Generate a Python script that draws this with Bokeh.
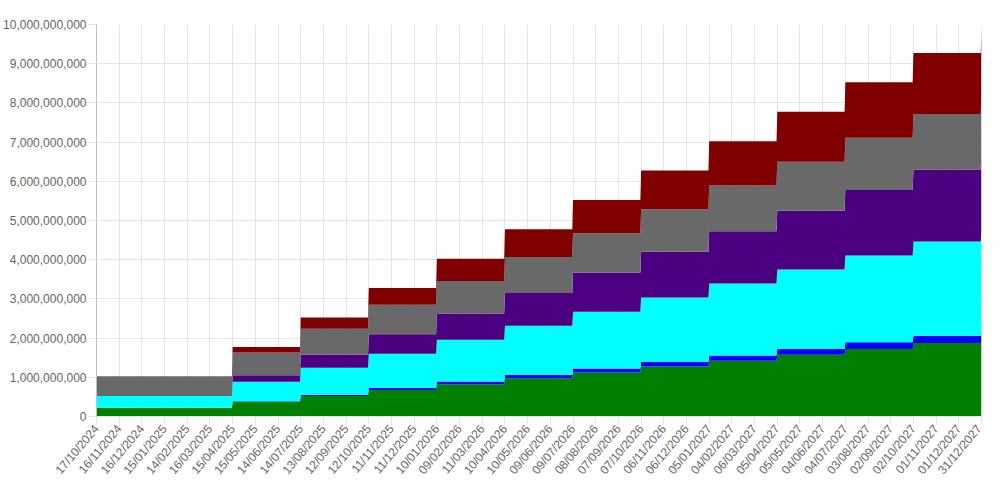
import math
from datetime import datetime, timedelta
from bokeh.plotting import figure
from bokeh.models import ColumnDataSource, Range1d, FixedTicker, DatetimeTickFormatter, NumeralTickFormatter
from bokeh.embed import file_html
from bokeh.resources import INLINE

tick_labels = [
    "17/10/2024", "16/11/2024", "16/12/2024", "15/01/2025", "14/02/2025", "16/03/2025",
    "15/04/2025", "15/05/2025", "14/06/2025", "14/07/2025", "13/08/2025", "12/09/2025",
    "12/10/2025", "11/11/2025", "11/12/2025", "10/01/2026", "09/02/2026", "11/03/2026",
    "10/04/2026", "10/05/2026", "09/06/2026", "09/07/2026", "08/08/2026", "07/09/2026",
    "07/10/2026", "06/11/2026", "06/12/2026", "05/01/2027", "04/02/2027", "06/03/2027",
    "05/04/2027", "05/05/2027", "04/06/2027", "04/07/2027", "03/08/2027", "02/09/2027",
    "02/10/2027", "01/11/2027", "01/12/2027", "31/12/2027",
]
unlock_dates = [
    "17/10/2024", "15/04/2025", "14/07/2025", "12/10/2025", "10/01/2026", "10/04/2026",
    "09/07/2026", "07/10/2026", "05/01/2027", "05/04/2027", "04/07/2027", "02/10/2027",
    "31/12/2027",
]
series_names = ["Community & Launch", "Validators", "Ecosystem", "Core Contributors",
                "deBridge Foundation", "Strategic Partners"]
community = [225, 375, 525, 675, 825, 975, 1125, 1275, 1425, 1575, 1725, 1875, 2000]
validators = [0, 17, 33, 50, 67, 83, 100, 117, 133, 150, 167, 183, 200]
ecosystem = [300, 492, 683, 875, 1067, 1258, 1450, 1642, 1833, 2025, 2217, 2408, 2600]
core = [0, 167, 333, 500, 667, 833, 1000, 1167, 1333, 1500, 1667, 1833, 2000]
foundation = [500, 583, 667, 750, 833, 917, 1000, 1083, 1167, 1250, 1333, 1417, 1500]
strategic = [0, 142, 283, 425, 567, 708, 850, 992, 1133, 1275, 1417, 1558, 1700]
y_ticks = [0, 1e9, 2e9, 3e9, 4e9, 5e9, 6e9, 7e9, 8e9, 9e9, 1e10]
colors = ["#008000", "#0000ff", "#00ffff", "#4b0082", "#696969", "#800000"]

EPOCH = datetime(1970, 1, 1)


def to_ms(s):
    return (datetime.strptime(s, "%d/%m/%Y") - EPOCH).total_seconds() * 1000.0


DAY = 86400000.0
all_series = [community, validators, ecosystem, core, foundation, strategic]
keys = ["s0", "s1", "s2", "s3", "s4", "s5"]
xs = []
cols = {k: [] for k in keys}
for i, s in enumerate(unlock_dates):
    t = to_ms(s)
    if i > 0:
        xs.append(t - DAY)
        for k, vals in zip(keys, all_series):
            cols[k].append(vals[i - 1] * 1e6)
    xs.append(t)
    for k, vals in zip(keys, all_series):
        cols[k].append(vals[i] * 1e6)
data = {"x": xs}
data.update(cols)
source = ColumnDataSource(data=data)
x_ticks = [to_ms(s) for s in tick_labels]

p = figure(width=984, height=484, x_axis_type="datetime",
           x_range=Range1d(x_ticks[0], x_ticks[-1]), y_range=Range1d(0, 1e10),
           output_backend="svg", toolbar_location=None,
           min_border_top=24, min_border_bottom=66, min_border_left=93, min_border_right=3)
p.outline_line_color = None
p.varea_stack(keys, x="x", source=source, color=colors)
p.xaxis.ticker = FixedTicker(ticks=x_ticks)
p.xaxis.formatter = DatetimeTickFormatter(days="%d/%m/%Y", months="%d/%m/%Y", years="%d/%m/%Y")
p.xaxis.major_label_orientation = math.radians(50)
p.yaxis.ticker = FixedTicker(ticks=y_ticks)
p.yaxis.formatter = NumeralTickFormatter(format="0,0")

p.axis.major_label_text_font = "Liberation Sans"
p.axis.major_label_text_font_size = "12px"
p.axis.major_label_text_color = "#666666"
p.axis.major_tick_out = 8
p.axis.major_tick_in = 0
p.axis.minor_tick_out = 0
p.axis.minor_tick_in = 0
p.axis.major_tick_line_color = "#e5e5e5"
p.axis.axis_line_color = "#e5e5e5"
p.axis.major_label_standoff = 2
p.yaxis.axis_line_color = "#bfbfbf"
p.grid.grid_line_color = "#e5e5e5"

with open("out.html", "w", encoding="utf-8") as f:
    f.write(file_html(p, INLINE))
